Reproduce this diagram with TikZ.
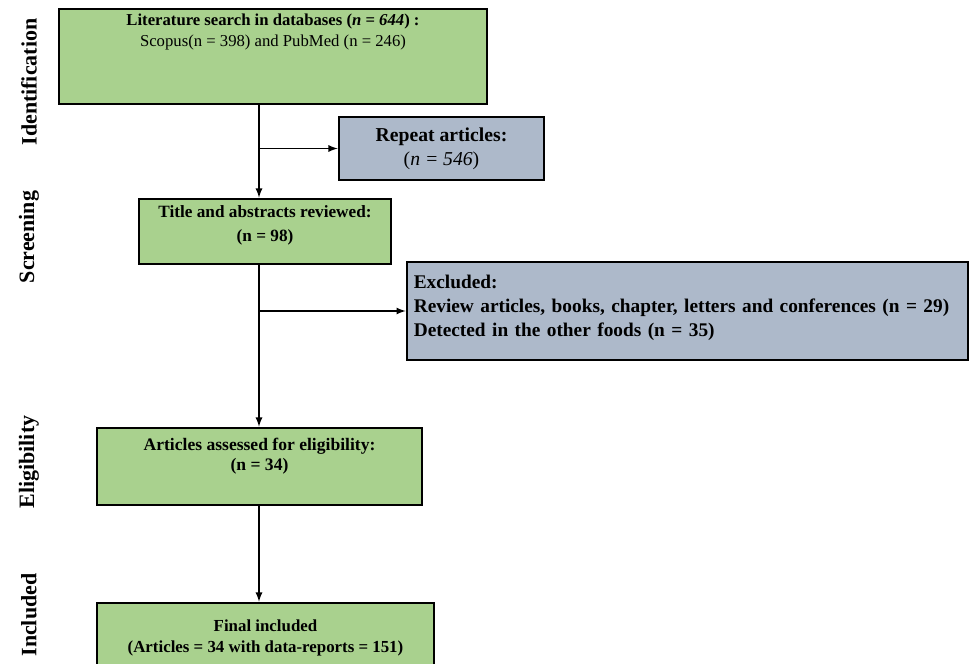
\documentclass[tikz,border=0pt]{standalone}
\usepackage{fontspec}
\setmainfont{Liberation Serif}
\usetikzlibrary{positioning}
\definecolor{boxgreen}{HTML}{A9D18E}
\definecolor{boxgrey}{HTML}{ADB9CA}
\tikzset{
  stagebox/.style={draw=black, line width=1.6pt, inner sep=3pt, align=center, font=\bfseries},
  greenbox/.style={stagebox, fill=boxgreen},
  greybox/.style={stagebox, fill=boxgrey},
  flow/.style={-latex, line width=0.8pt},
  phase/.style={rotate=90, font=\bfseries\fontsize{12.5}{14}\selectfont}
}
\begin{document}
\begin{tikzpicture}[x=0.02cm, y=-0.02cm]
	\useasboundingbox (0,0) rectangle (970,663);

	% phase labels
	\node[phase] (ident) at (29,82) {Identification};
	\node[phase] (screen) at (29,237) {Screening};
	\node[phase] (elig) at (29,462) {Eligibility};
	\node[phase] (incl) at (29,615) {Included};

	% boxes
	\node[greenbox, minimum width=8.56cm, minimum height=1.9cm, text depth=1.05cm,
		font=\fontsize{9.5}{11.5}\selectfont] (search) at (273,56.5)
		{\textbf{Literature search in databases (\textit{n} = \textit{644}) :}\\
		Scopus(n = 398) and PubMed (n = 246)};
	\node[greybox, minimum width=4.1cm, minimum height=1.26cm,
		font=\fontsize{11.2}{13.5}\selectfont] (repeat) at (441.5,148.5)
		{\textbf{Repeat articles:}\\ \mdseries(\textit{n = 546})};
	\node[greenbox, minimum width=5.04cm, minimum height=1.3cm, text depth=0.32cm,
		font=\bfseries\fontsize{9.8}{13.5}\selectfont] (title) at (265,231.5)
		{Title and abstracts reviewed:\\ (n = 98)};
	\node[greybox, minimum width=11.22cm, minimum height=1.96cm, text width=10.95cm,
		align=left, text depth=1.15cm,
		font=\bfseries\fontsize{11}{13.4}\selectfont] (excl) at (687.5,311)
		{Excluded:\\
		Review articles, books, chapter, letters and conferences (n = 29)\\
		Detected in the other foods (n = 35)};
	\node[greenbox, minimum width=6.5cm, minimum height=1.54cm, text depth=0.5cm,
		font=\bfseries\fontsize{10}{11.5}\selectfont] (assess) at (259.5,466.5)
		{Articles assessed for eligibility:\\ (n = 34)};
	\node[greenbox, minimum width=6.74cm, minimum height=1.4cm,
		font=\bfseries\fontsize{9.6}{11.5}\selectfont] (final) at (265.5,638)
		{Final included\\ (Articles = 34 with data-reports = 151)};

	% connectors
	\coordinate (trunk) at (259,0);
	\draw[flow] (search.south -| trunk) -- (title.north -| trunk);
	\draw[flow] (repeat.west -| trunk) -- (repeat.west);
	\draw[flow] (title.south -| trunk) -- (assess.north -| trunk);
	\draw[flow] (excl.west -| trunk) -- (excl.west);
	\draw[flow] (assess.south -| trunk) -- (final.north -| trunk);
\end{tikzpicture}
\end{document}
